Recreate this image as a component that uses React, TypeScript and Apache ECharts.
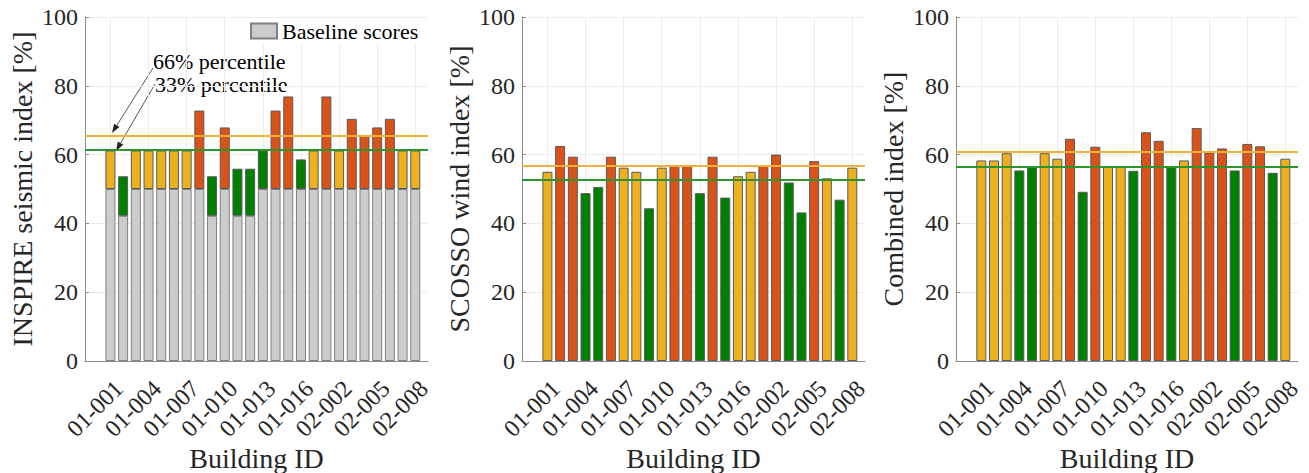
import React, { useEffect, useRef } from "react";
import * as echarts from "echarts";

const buildingIds = [
  "01-001", "01-002", "01-003", "01-004", "01-005", "01-006", "01-007", "01-008", "01-009",
  "01-010", "01-011", "01-012", "01-013", "01-014", "01-015", "01-016", "01-017",
  "02-001", "02-002", "02-003", "02-004", "02-005", "02-006", "02-007", "02-008",
];

// Panel 1: INSPIRE seismic index (stacked: baseline + increment to total)
const inspireBaseline = [50, 42.2, 50, 50, 50, 50, 50, 50, 42.2, 50, 42.2, 42.2, 50, 50, 50, 50, 50, 50, 50, 50, 50, 50, 50, 50, 50];
const inspireScore = [61.2, 53.7, 61.2, 61.2, 61.2, 61.2, 61.2, 72.8, 53.7, 67.9, 55.9, 55.9, 61.2, 72.8, 76.9, 58.6, 61.2, 76.9, 61.2, 70.4, 65.4, 67.9, 70.4, 61.2, 61.2];
const inspireClass = ["M", "L", "M", "M", "M", "M", "M", "H", "L", "H", "L", "L", "L", "H", "H", "L", "M", "H", "M", "H", "H", "H", "H", "M", "M"];
const inspirePercentiles = [65.4, 61.4]; // 66%, 33%

// Panel 2: SCOSSO wind index
const windScore = [55.0, 62.5, 59.4, 48.8, 50.6, 59.4, 56.2, 55.0, 44.4, 56.2, 56.8, 56.8, 48.8, 59.4, 47.5, 53.7, 55.0, 56.8, 60.0, 51.9, 43.2, 58.1, 53.1, 46.9, 56.2];
const windClass = ["M", "H", "H", "L", "L", "H", "M", "M", "L", "M", "H", "H", "L", "H", "L", "M", "M", "H", "H", "L", "L", "H", "M", "L", "M"];
const windPercentiles = [56.9, 52.7];

// Panel 3: Combined index
const combinedScore = [58.3, 58.3, 60.4, 55.4, 56.4, 60.4, 58.8, 64.6, 49.2, 62.3, 56.4, 56.4, 55.3, 66.5, 64.0, 56.4, 58.3, 67.7, 60.6, 61.8, 55.4, 63.1, 62.4, 54.7, 58.8];
const combinedClass = ["M", "M", "M", "L", "L", "M", "M", "H", "L", "H", "M", "M", "L", "H", "H", "L", "M", "H", "H", "H", "L", "H", "H", "L", "M"];
const combinedPercentiles = [60.7, 56.4];

const yTicks = [0, 20, 40, 60, 80, 100];
const yTitles = ["INSPIRE seismic index [%]", "SCOSSO wind index [%]", "Combined index [%]"];
const xTitle = "Building ID";

const CLASS_COLORS: Record<string, string> = { H: "#D95319", M: "#EDB120", L: "#008000" };
const LINE_COLORS = ["#F0B13A", "#2E952E"];
const FONT = "'Liberation Serif', serif";
const TEXT = "#262626";

const PAD_LEFT = 2;
const PAD_RIGHT = 1;
const categories = [
  ...Array.from({ length: PAD_LEFT }, (_, i) => `pad-l${i}`),
  ...buildingIds,
  ...Array.from({ length: PAD_RIGHT }, (_, i) => `pad-r${i}`),
];
const padData = (arr: any[]) => [
  ...Array(PAD_LEFT).fill("-"),
  ...arr,
  ...Array(PAD_RIGHT).fill("-"),
];
const showIdx = (i: number) =>
  i >= PAD_LEFT && i < PAD_LEFT + buildingIds.length && (i - PAD_LEFT) % 3 === 0;

const grids = [
  { left: 85, top: 17, width: 343, height: 344, outerBoundsMode: "none", containLabel: false },
  { left: 522, top: 17, width: 343, height: 344, outerBoundsMode: "none", containLabel: false },
  { left: 956, top: 17, width: 342, height: 344, outerBoundsMode: "none", containLabel: false },
];

const barBorder = { borderColor: "#5a5a5a", borderWidth: 1 };

function percentileLine(p: number[]) {
  return {
    silent: true,
    symbol: "none",
    label: { show: false },
    lineStyle: { width: 2, type: "solid" },
    data: [
      { yAxis: p[0], lineStyle: { color: LINE_COLORS[0], width: 2, type: "solid" } },
      { yAxis: p[1], lineStyle: { color: LINE_COLORS[1], width: 2, type: "solid" } },
    ],
  };
}

function arrow(x1: number, y1: number, x2: number, y2: number) {
  const dx = x2 - x1;
  const dy = y2 - y1;
  const len = Math.sqrt(dx * dx + dy * dy);
  const ux = dx / len;
  const uy = dy / len;
  const hl = 9;
  const hw = 3.2;
  const bx = x2 - ux * hl;
  const by = y2 - uy * hl;
  return [
    {
      type: "line",
      shape: { x1, y1, x2: bx, y2: by },
      style: { stroke: "#555", lineWidth: 1 },
      silent: true,
    },
    {
      type: "polygon",
      shape: {
        points: [
          [x2, y2],
          [bx - uy * hw, by + ux * hw],
          [bx + uy * hw, by - ux * hw],
        ],
      },
      style: { fill: "#222" },
      silent: true,
    },
  ];
}

export default function App() {
  const ref = useRef<HTMLDivElement>(null);

  useEffect(() => {
    if (!ref.current) return;
    const chart = echarts.init(ref.current, null, { renderer: "svg" });

    const xAxes = grids.map((_, gi) => ({
      type: "category",
      gridIndex: gi,
      data: categories,
      boundaryGap: false,
      name: xTitle,
      nameLocation: "middle",
      nameGap: 82,
      nameMoveOverlap: false,
      nameTextStyle: { fontFamily: FONT, fontSize: 28, color: TEXT, lineHeight: 30 },
      axisLine: { show: true, lineStyle: { color: "#8c8c8c", width: 1 } },
      axisTick: { show: true, inside: true, length: 4, interval: (i: number) => showIdx(i), lineStyle: { color: "#8c8c8c" } },
      axisLabel: {
        interval: (i: number) => showIdx(i),
        rotate: 45,
        margin: 15,
        align: "right",
        verticalAlign: "top",
        fontFamily: FONT,
        fontSize: 24,
        color: TEXT,
        formatter: (v: string) => (v.startsWith("pad") ? "" : v),
      },
      splitLine: { show: true, interval: (i: number) => showIdx(i), lineStyle: { color: "#ececec", width: 1 } },
    }));

    const yAxes = grids.map((_, gi) => ({
      type: "value",
      gridIndex: gi,
      min: yTicks[0],
      max: yTicks[yTicks.length - 1],
      interval: yTicks[1] - yTicks[0],
      name: yTitles[gi],
      nameLocation: "middle",
      nameGap: 49,
      nameMoveOverlap: false,
      nameTextStyle: { fontFamily: FONT, fontSize: 28, color: TEXT },
      axisLine: { show: true, lineStyle: { color: "#8c8c8c", width: 1 } },
      axisTick: { show: true, inside: true, length: 4, lineStyle: { color: "#8c8c8c" } },
      axisLabel: { margin: 7, fontFamily: FONT, fontSize: 24, color: TEXT },
      splitLine: { show: true, lineStyle: { color: "#ececec", width: 1 } },
    }));

    const coloredData = (scores: number[], classes: string[], base?: number[]) =>
      padData(
        scores.map((v, i) => ({
          value: base ? +(v - base[i]).toFixed(2) : v,
          itemStyle: { color: CLASS_COLORS[classes[i]], ...barBorder },
        }))
      );

    const series: any[] = [
      {
        name: "Baseline scores",
        type: "bar",
        xAxisIndex: 0,
        yAxisIndex: 0,
        stack: "inspire",
        barWidth: 10,
        data: padData(inspireBaseline),
        itemStyle: { color: "#CCCCCC", borderColor: "#808080", borderWidth: 1 },
      },
      {
        name: "INSPIRE",
        type: "bar",
        xAxisIndex: 0,
        yAxisIndex: 0,
        stack: "inspire",
        barWidth: 10,
        data: coloredData(inspireScore, inspireClass, inspireBaseline),
        markLine: percentileLine(inspirePercentiles),
      },
      {
        name: "SCOSSO",
        type: "bar",
        xAxisIndex: 1,
        yAxisIndex: 1,
        barWidth: 10,
        data: coloredData(windScore, windClass),
        markLine: percentileLine(windPercentiles),
      },
      {
        name: "Combined",
        type: "bar",
        xAxisIndex: 2,
        yAxisIndex: 2,
        barWidth: 10,
        data: coloredData(combinedScore, combinedClass),
        markLine: percentileLine(combinedPercentiles),
      },
    ];

    chart.setOption({
      animation: false,
      backgroundColor: "#ffffff",
      grid: grids,
      xAxis: xAxes,
      yAxis: yAxes,
      legend: {
        data: ["Baseline scores"],
        left: 246,
        top: 18,
        icon: "rect",
        itemWidth: 26,
        itemHeight: 15,
        itemGap: 4,
        padding: [2, 4, 2, 4],
        backgroundColor: "#ffffff",
        textStyle: { fontFamily: FONT, fontSize: 22, color: "#000" },
        selectedMode: false,
      },
      graphic: [
        {
          type: "text",
          left: 153,
          top: 50,
          style: { text: "66% percentile", fontFamily: FONT, fontSize: 22, fill: "#000" },
          silent: true,
        },
        {
          type: "text",
          left: 155,
          top: 73,
          style: { text: "33% percentile", fontFamily: FONT, fontSize: 22, fill: "#000" },
          silent: true,
        },
        ...arrow(153, 68, 112, 133),
        ...arrow(155, 84, 116, 151),
      ],
      series,
    });

    return () => chart.dispose();
  }, []);

  return (
    <div
      ref={ref}
      style={{ position: "fixed", left: 0, top: 0, width: 1309, height: 473, background: "#fff" }}
    />
  );
}
